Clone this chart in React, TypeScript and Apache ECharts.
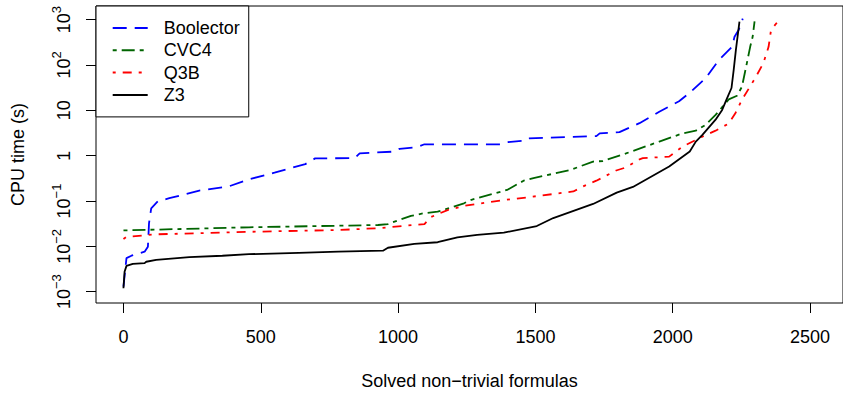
import React, { useEffect, useRef } from "react";
import * as echarts from "echarts";

// ---- data (solved count, CPU time in seconds) ----
const boolectorSolved = [0, 11, 29, 77, 89, 93, 101, 125, 167, 276, 384, 457, 550, 662, 698, 842, 860, 987, 1005, 1071, 1096, 1372, 1397, 1457, 1469, 1722, 1734, 1806, 1879, 1951, 2023, 2060, 2120, 2168, 2216, 2225, 2240, 2255];
const boolectorTime = [0.00129, 0.0055, 0.0062, 0.0076, 0.0098, 0.032, 0.069, 0.098, 0.115, 0.17, 0.21, 0.3, 0.42, 0.65, 0.87, 0.88, 1.12, 1.23, 1.41, 1.55, 1.78, 1.78, 1.97, 2.14, 2.4, 2.69, 3.09, 3.3, 5.2, 9.3, 15.8, 23.8, 51, 129, 251, 417, 589, 1050];

const cvc4Solved = [0, 457, 927, 963, 987, 1047, 1096, 1144, 1240, 1264, 1397, 1457, 1493, 1626, 1710, 1746, 1830, 1951, 2036, 2084, 2120, 2156, 2204, 2234, 2252, 2270, 2282, 2291, 2298];
const cvc4Time = [0.0224, 0.0263, 0.0295, 0.031, 0.035, 0.047, 0.054, 0.058, 0.089, 0.105, 0.175, 0.28, 0.32, 0.48, 0.74, 0.76, 1.12, 2.04, 3.1, 3.55, 4.8, 7.9, 17.4, 20.9, 33, 110, 251, 417, 912];

const q3bSolved = [0, 11, 119, 457, 782, 927, 1096, 1119, 1144, 1180, 1240, 1385, 1420, 1638, 1674, 1722, 1794, 1830, 1879, 1891, 1987, 2036, 2108, 2156, 2204, 2228, 2252, 2300, 2330, 2349, 2358, 2379];
const q3bTime = [0.0145, 0.0162, 0.0184, 0.0209, 0.0229, 0.0251, 0.031, 0.044, 0.051, 0.063, 0.078, 0.105, 0.11, 0.162, 0.21, 0.28, 0.47, 0.55, 0.83, 0.88, 0.95, 1.58, 2.63, 3.55, 5.1, 8.6, 17, 51, 110, 251, 589, 851];

const z3Solved = [0, 4, 11, 34, 77, 83, 119, 240, 360, 457, 638, 782, 945, 963, 1059, 1144, 1216, 1288, 1385, 1505, 1565, 1710, 1796, 1855, 1987, 2062, 2084, 2108, 2156, 2180, 2198, 2214, 2222, 2230, 2243];
const z3Time = [0.00119, 0.00275, 0.0037, 0.0041, 0.00427, 0.00457, 0.005, 0.0058, 0.0062, 0.0067, 0.0072, 0.0076, 0.008, 0.0093, 0.0113, 0.0123, 0.0158, 0.0178, 0.02, 0.028, 0.042, 0.086, 0.153, 0.204, 0.575, 1.23, 2.04, 2.88, 6.2, 10.2, 18.6, 31, 78, 214, 900];

const seriesNames = ["Boolector", "CVC4", "Q3B", "Z3"];
const xTicks = [0, 500, 1000, 1500, 2000, 2500];
const yTickExps = [-3, -2, -1, 0, 1, 2, 3];

const FONT = "'Liberation Sans', Arial, Helvetica, sans-serif";

function pairs(xs: number[], ts: number[]) {
  return xs.map((x, i) => [x, Math.log10(ts[i])]);
}

function yLabel(v: number) {
  const e = Math.round(v);
  if (e === 0) return "{b|1}";
  if (e === 1) return "{b|10}";
  return `{b|10}{s|${e < 0 ? "\u2212" : ""}${Math.abs(e)}}`;
}

export default function App() {
  const ref = useRef<HTMLDivElement>(null);
  useEffect(() => {
    if (!ref.current) return;
    const chart = echarts.init(ref.current, undefined, { renderer: "svg" });
    const styles = [
      { color: "#0000FF", type: [14, 8] },
      { color: "#006400", type: [4, 5, 13, 5] },
      { color: "#FF0000", type: [3, 7, 9, 7] },
      { color: "#000000", type: "solid" },
    ];
    const datas = [
      pairs(boolectorSolved, boolectorTime),
      pairs(cvc4Solved, cvc4Time),
      pairs(q3bSolved, q3bTime),
      pairs(z3Solved, z3Time),
    ];
    chart.setOption({
      animation: false,
      backgroundColor: "#ffffff",
      textStyle: { fontFamily: FONT },
      grid: {
        left: 96,
        top: 6,
        bottom: 93,
        right: -5,
        show: true,
        borderColor: "#000",
        borderWidth: 1,
        backgroundColor: "transparent",
      },
      legend: {
        orient: "vertical",
        left: 96,
        top: 6,
        padding: [12, 9, 12, 15.7],
        itemWidth: 35,
        itemHeight: 14,
        itemGap: 2.3,
        borderColor: "#000",
        borderWidth: 1,
        backgroundColor: "#fff",
        data: seriesNames,
        itemStyle: { opacity: 0 },
        textStyle: {
          fontFamily: FONT,
          fontSize: 18,
          lineHeight: 20,
          color: "#000",
          padding: [0, 0, 0, 11],
        },
      },
      xAxis: {
        type: "value",
        min: -100,
        max: 2620,
        name: "Solved non\u2212trivial formulas",
        nameLocation: "middle",
        nameGap: 69,
        nameTextStyle: { fontFamily: FONT, fontSize: 18, lineHeight: 18, color: "#000" },
        axisLine: { show: false, onZero: false },
        splitLine: { show: false },
        axisTick: { show: true, length: 10, customValues: xTicks, lineStyle: { color: "#000", width: 1 } },
        axisLabel: {
          customValues: xTicks,
          margin: 25,
          fontFamily: FONT,
          fontSize: 18,
          lineHeight: 18,
          color: "#000",
          formatter: (v: number) => String(v),
        },
      },
      yAxis: {
        type: "value",
        min: -3.25,
        max: 3.3,
        name: "CPU time (s)",
        nameLocation: "middle",
        nameGap: 69,
        nameRotate: 90,
        nameTextStyle: { fontFamily: FONT, fontSize: 18, lineHeight: 18, color: "#000" },
        axisLine: { show: false, onZero: false },
        splitLine: { show: false },
        axisTick: { show: true, length: 10, customValues: yTickExps, lineStyle: { color: "#000", width: 1 } },
        axisLabel: {
          customValues: yTickExps,
          rotate: 90,
          margin: 18,
          color: "#000",
          formatter: yLabel,
          rich: {
            b: { fontFamily: FONT, fontSize: 18, lineHeight: 28, color: "#000" },
            s: { fontFamily: FONT, fontSize: 13, lineHeight: 10, verticalAlign: "top", color: "#000" },
          },
        },
      },
      series: seriesNames.map((name, i) => ({
        name,
        type: "line",
        data: datas[i],
        showSymbol: false,
        symbol: "none",
        color: styles[i].color,
        itemStyle: { color: styles[i].color },
        lineStyle: { color: styles[i].color, width: 1.8, type: styles[i].type },
        z: 2 + i,
      })),
    });
    return () => chart.dispose();
  }, []);
  return (
    <div
      ref={ref}
      style={{ position: "fixed", left: 0, top: 0, width: 843, height: 396 }}
    />
  );
}
